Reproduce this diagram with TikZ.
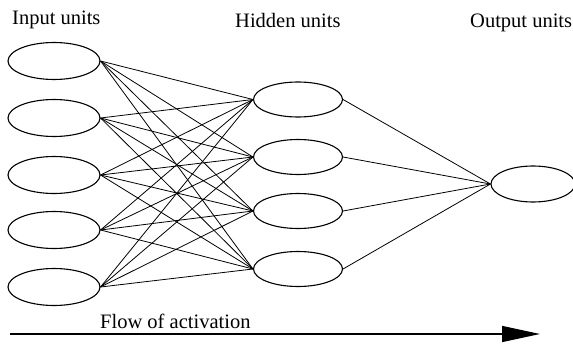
\documentclass[tikz,border=0pt]{standalone}
\usepackage{fontspec}
\setmainfont{Liberation Serif}
\usetikzlibrary{shapes.geometric,arrows.meta}
\begin{document}
\begin{tikzpicture}[x=1pt,y=-1pt,
  unit/.style={draw, ellipse, line width=1.1pt, inner sep=0pt},
  inunit/.style={unit, minimum width=92pt, minimum height=37pt},
  hidunit/.style={unit, minimum width=89pt, minimum height=35pt},
  outunit/.style={unit, minimum width=84pt, minimum height=36pt},
  link/.style={line width=0.8pt},
  lbl/.style={inner sep=0pt, font=\fontsize{20.5}{24}\selectfont}]
\useasboundingbox (0,0) rectangle (573,345);
\node[lbl, anchor=base west] (tin) at (12,25) {Input units};
\node[lbl, anchor=base west] (thid) at (235,28) {Hidden units};
\node[lbl, anchor=base west] (tout) at (470,28) {Output units};
\foreach \i/\y in {1/61,2/118,3/175,4/230,5/287}
  \node[inunit] (i\i) at (54,\y) {};
\foreach \j/\y in {1/99.5,2/157,3/211,4/269}
  \node[hidunit] (h\j) at (298,\y) {};
\node[outunit] (o) at (533,184) {};
\foreach \i in {1,...,5}
  \foreach \j in {1,...,4}
    \draw[link] (i\i.east) -- (h\j.west);
\foreach \j in {1,...,4}
  \draw[link] (h\j.east) -- (o.west);
\coordinate (as) at (10,334);
\coordinate (ae) at (540,334);
\draw[line width=1.3pt, -{Triangle[length=38pt,width=16pt]}] (as) -- (ae);
\node[lbl, anchor=base west] (flow) at (100,328) {Flow of activation};
\end{tikzpicture}
\end{document}
